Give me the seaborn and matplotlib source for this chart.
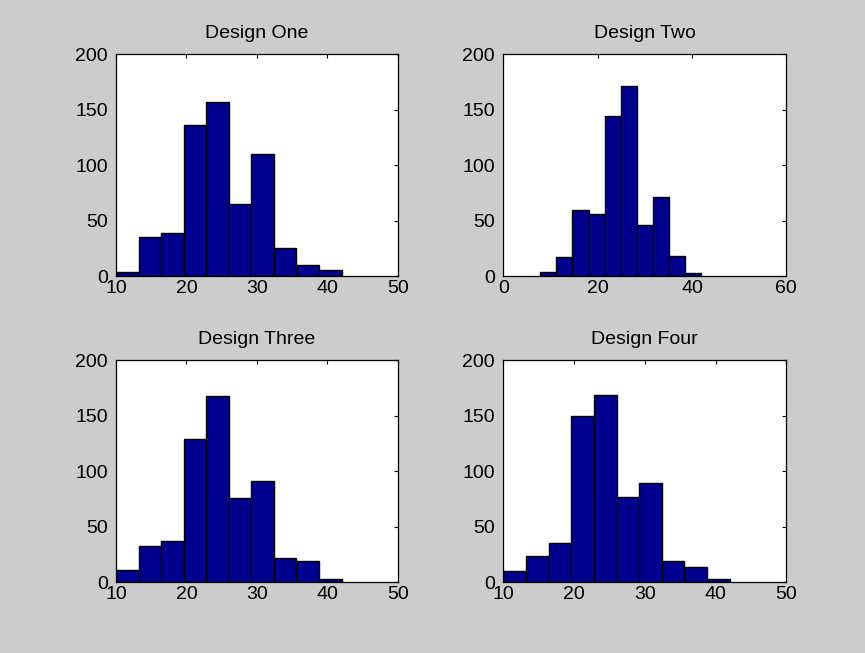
"""
Histograms of the four designs, MATLAB-style 2x2 layout.
"""

import numpy as np
import pandas as pd
import matplotlib
matplotlib.use("Agg")
import matplotlib.pyplot as plt
import seaborn as sns

# Data: 10 equal bins per design
designs = ["Design One", "Design Two", "Design Three", "Design Four"]
bin_lo = [10.0, 7.8, 10.0, 10.0]
bin_hi = [42.0, 42.0, 42.0, 42.0]
counts_one = [4, 35, 39, 136, 157, 65, 110, 25, 10, 6]
counts_two = [4, 17, 60, 56, 144, 171, 46, 71, 18, 3]
counts_three = [11, 33, 37, 129, 168, 76, 91, 22, 19, 3]
counts_four = [10, 24, 35, 150, 169, 77, 89, 19, 14, 3]
x_limits = [(10, 50), (0, 60), (10, 50), (10, 50)]
x_ticks = [[10, 20, 30, 40, 50], [0, 20, 40, 60], [10, 20, 30, 40, 50], [10, 20, 30, 40, 50]]
y_ticks = [0, 50, 100, 150, 200]

all_counts = [counts_one, counts_two, counts_three, counts_four]

sns.set_style("white")
plt.rcParams['font.family'] = ['Liberation Sans', 'DejaVu Sans']
plt.rcParams['font.size'] = 14

BG = "#CCCCCC"
BAR = "#00008F"

fig = plt.figure(figsize=(8.65, 6.53), dpi=100, facecolor=BG)

positions = [
    (0.1341, 0.5770, 0.3260, 0.3400),
    (0.5819, 0.5770, 0.3272, 0.3400),
    (0.1341, 0.1083, 0.3260, 0.3400),
    (0.5819, 0.1083, 0.3272, 0.3400),
]

for i, name in enumerate(designs):
    ax = fig.add_axes(positions[i])
    counts = all_counts[i]
    edges = np.linspace(bin_lo[i], bin_hi[i], len(counts) + 1).tolist()
    centers = [(a + b) / 2 for a, b in zip(edges[:-1], edges[1:])]
    df = pd.DataFrame({"value": centers, "count": counts})

    sns.histplot(data=df, x="value", weights="count", bins=edges, ax=ax,
                 color=BAR, edgecolor="black", linewidth=1.0, alpha=1.0)

    ax.set_xlim(*x_limits[i])
    ax.set_ylim(0, 200)
    ax.set_xticks(x_ticks[i])
    ax.set_yticks(y_ticks)
    ax.set_xlabel("")
    ax.set_ylabel("")
    ax.set_title(name, fontsize=14, pad=12, color="black")
    ax.set_facecolor("white")
    for spine in ax.spines.values():
        spine.set_visible(True)
        spine.set_color("black")
        spine.set_linewidth(0.9)
    ax.tick_params(direction="in", length=3, width=0.8, top=True, right=True,
                   labelsize=14, colors="black")
    ax.tick_params(axis="x", pad=3)
    ax.tick_params(axis="y", pad=6)
    ax.grid(False)

fig.savefig("out.png", dpi=100, facecolor=BG)
